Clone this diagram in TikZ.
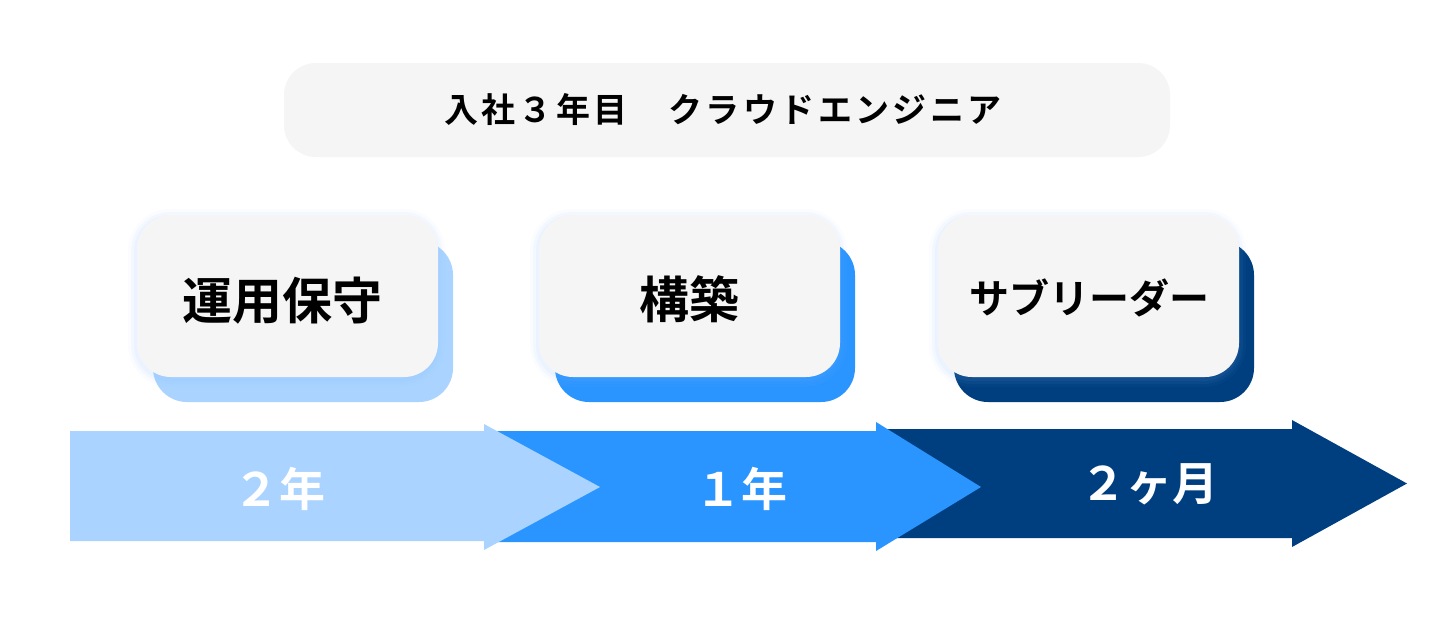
\documentclass[tikz,border=0pt]{standalone}
\usepackage{fontspec}
\newfontfamily\jp{Noto Sans CJK JP}[BoldFont={Noto Sans CJK JP Bold}]
\definecolor{cardbg}{HTML}{F5F5F5}
\definecolor{blueA}{HTML}{AAD4FF}
\definecolor{blueB}{HTML}{2B95FF}
\definecolor{blueC}{HTML}{003F7F}
\definecolor{glow}{HTML}{7FB8FF}
\tikzset{
  backcard/.style={rounded corners=34pt},
  frontcard/.style={fill=cardbg, rounded corners=34pt},
  cardtext/.style={font=\jp\bfseries\fontsize{50}{50}\selectfont, text=black, inner sep=0pt},
  arrowtext/.style={font=\jp\bfseries\fontsize{46}{46}\selectfont, text=white, inner sep=0pt},
}
\begin{document}
\begin{tikzpicture}[x=1pt,y=-1pt]
\useasboundingbox (0,0) rectangle (1440,630);
\fill[white] (0,0) rectangle (1440,630);
% header
\fill[cardbg, rounded corners=32pt] (284,63) rectangle (1170,157);
\node[font=\jp\bfseries\fontsize{34}{34}\selectfont\addfontfeature{LetterSpace=10}, inner sep=0pt] (title) at (723,110) {入社３年目　クラウドエンジニア};
% cards
\foreach \x/\c/\n in {137/blueA/a,539/blueB/b,938/blueC/c}{
  \fill[\c, backcard] (\x+16,241) rectangle (\x+316,402);
  \foreach \s/\o in {8/0.03,5/0.05,2/0.07}{
    \fill[glow, opacity=\o, rounded corners=34pt+\s pt] (\x-\s-1,215-\s+2) rectangle (\x+301+\s-1,377+\s+2);
  }
  \fill[frontcard] (\x,215) rectangle (\x+301,377);
}
\node[cardtext] (c1) at (282,301) {運用保守};
\node[cardtext] (c2) at (689,299) {構築};
\node[cardtext, font=\jp\bfseries\fontsize{40}{40}\selectfont] (c3) at (1089,298) {サブリーダー};
% arrows
\fill[blueC] (880,429) -- (1292,429) -- (1292,420) -- (1407,483.5) -- (1292,547) -- (1292,538) -- (880,538) -- cycle;
\fill[blueB] (495,431) -- (876,431) -- (876,422) -- (981,487) -- (876,551) -- (876,542) -- (495,542) -- cycle;
\fill[blueA] (70,431) -- (484,431) -- (484,424) -- (600,487) -- (484,550) -- (484,541) -- (70,541) -- cycle;
\node[arrowtext] (t1) at (279,489) {２年};
\node[arrowtext] (t2) at (741,489) {１年};
\node[arrowtext] (t3) at (1149,484) {２ヶ月};
\end{tikzpicture}
\end{document}
